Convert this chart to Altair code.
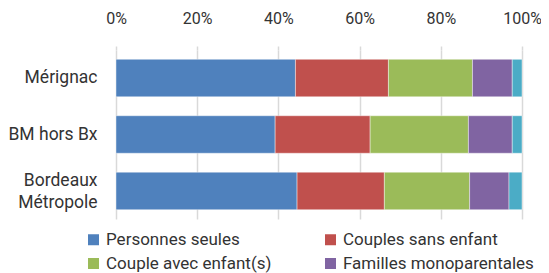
import altair as alt
import pandas as pd

zones = ["Mérignac", "BM hors Bx", "Bordeaux Métropole"]
types = ["Personnes seules", "Couples sans enfant", "Couple avec enfant(s)",
         "Familles monoparentales", "Autres ménages"]
colors = ["#4F81BD", "#C0504D", "#9BBB59", "#8064A2", "#4BACC6"]

personnes_seules = [44.2, 39.2, 44.6]
couples_sans = [22.9, 23.4, 21.5]
couple_avec = [20.7, 24.2, 21.0]
familles_mono = [9.8, 10.8, 9.7]
autres = [2.4, 2.4, 3.2]

series = [personnes_seules, couples_sans, couple_avec, familles_mono, autres]
rows = []
for ti, (t, vals) in enumerate(zip(types, series)):
    for z, v in zip(zones, vals):
        rows.append({"zone": z, "type": t, "value": v, "ordre": ti})
df = pd.DataFrame(rows)

FONT = "Roboto"
TXT = "#333333"

chart = alt.Chart(df).mark_bar(
    stroke="#ffffff", strokeWidth=0.6, strokeOpacity=0.7
).encode(
    x=alt.X("sum(value):Q", stack="normalize",
            scale=alt.Scale(domain=[0, 1], nice=False),
            axis=alt.Axis(orient="top", format="%", values=[0, 0.2, 0.4, 0.6, 0.8, 1.0],
                          title=None, domain=False, ticks=True, tickSize=4,
                          tickColor="#d9d9d9", tickWidth=1.5,
                          grid=True, gridColor="#d9d9d9", gridWidth=1.5,
                          labelFont=FONT, labelFontSize=16, labelColor=TXT,
                          labelFlush=False, labelOverlap=False,
                          labelPadding=20, minExtent=42, maxExtent=42)),
    y=alt.Y("zone:N", sort=zones, title=None,
            scale=alt.Scale(paddingInner=0.336, paddingOuter=0.165),
            axis=alt.Axis(domain=False, ticks=False, grid=False,
                          labelFont=FONT, labelFontSize=17.5, labelColor=TXT,
                          labelPadding=19, labelLineHeight=22,
                          labelOffset={"condition": {"test": "datum.value == 'Bordeaux Métropole'", "value": -10}, "value": 0},
                          labelExpr="datum.value == 'Bordeaux Métropole' ? ['Bordeaux', 'Métropole'] : datum.value",
                          minExtent=108, maxExtent=108)),
    color=alt.Color("type:N", sort=types,
                    scale=alt.Scale(domain=types, range=colors),
                    legend=alt.Legend(title=None, orient="none", legendX=-31, legendY=181,
                                      columns=2, direction="horizontal", values=types[:4],
                                      symbolType="square", symbolSize=121,
                                      symbolStrokeWidth=0, labelOffset=4, labelLimit=400,
                                      labelFont=FONT, labelFontSize=17, labelColor=TXT,
                                      columnPadding=50, rowPadding=6)),
    order=alt.Order("ordre:Q", sort="ascending"),
).properties(
    width=406, height=169,
    autosize=alt.AutoSizeParams(type="none"),
    padding={"left": 108, "top": 42, "right": 19, "bottom": 60},
).configure_view(stroke=None)

chart.save("out.html", embed_options={"renderer": "svg", "actions": False})
